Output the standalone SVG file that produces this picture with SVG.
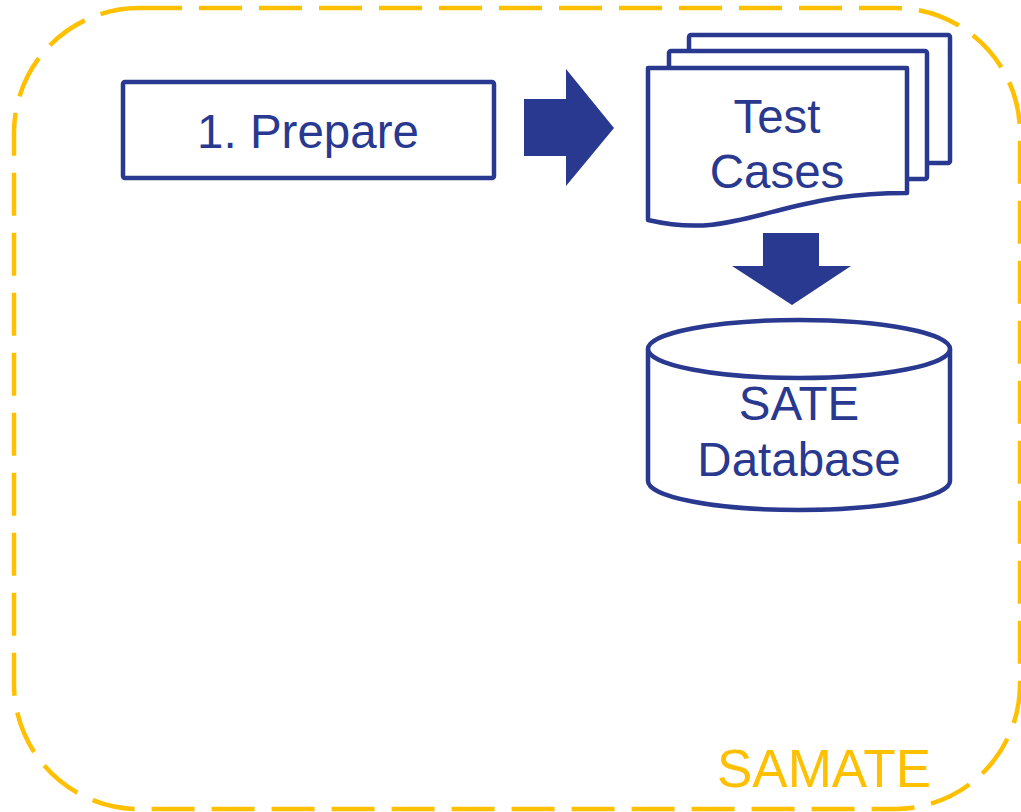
<svg xmlns="http://www.w3.org/2000/svg" width="1021" height="812" viewBox="0 0 1021 812">
  <style>
    .frame { fill: none; stroke: #FFC000; stroke-width: 4.5; stroke-dasharray: 43 17; }
    .shape { fill: #FFFFFF; stroke: #29398F; stroke-width: 4.5; stroke-linejoin: round; }
    .arrow { fill: #29398F; stroke: none; }
    .label { font-family: "Liberation Sans", Arial, sans-serif; font-size: 47.5px; fill: #29398F; text-anchor: middle; }
    .title { font-family: "Liberation Sans", Arial, sans-serif; font-size: 53px; fill: #FFC000; }
  </style>

  <rect fill="#FFFFFF" x="0" y="0" width="1021" height="812"/>

  <!-- SAMATE boundary -->
  <g id="samate">
    <rect class="frame" x="14" y="8" width="1006" height="801" rx="125" ry="125"/>
    <text class="title" x="717" y="787">SAMATE</text>
  </g>

  <!-- Step 1 -->
  <g id="prepare">
    <rect class="shape" x="123" y="82" width="371" height="96" rx="2"/>
    <text class="label" x="308" y="148">1. Prepare</text>
  </g>

  <!-- Stack of test case documents -->
  <g id="test-cases">
    <rect class="shape" x="689" y="35" width="261" height="128" rx="2"/>
    <rect class="shape" x="669" y="51" width="258" height="128" rx="2"/>
    <path class="shape" d="M648,68 H907 V193 C850,193 820,200 780,210 C730,223 700,232 648,220 Z"/>
    <text class="label" x="777" y="133">Test</text>
    <text class="label" x="777" y="188">Cases</text>
  </g>

  <!-- Database cylinder -->
  <g id="sate-database">
    <path class="shape" d="M648,349 V481 A151,29 0 0 0 950,481 V349"/>
    <ellipse class="shape" cx="799" cy="349" rx="151" ry="29"/>
    <text class="label" x="799" y="420">SATE</text>
    <text class="label" x="799" y="476">Database</text>
  </g>

  <!-- Block arrows -->
  <g id="connectors">
    <polygon class="arrow" points="524,99 566,99 566,69 614,128 566,186 566,156 524,156"/>
    <polygon class="arrow" points="763,233 819,233 819,266 851,266 792,305 732,266 763,266"/>
  </g>
</svg>
